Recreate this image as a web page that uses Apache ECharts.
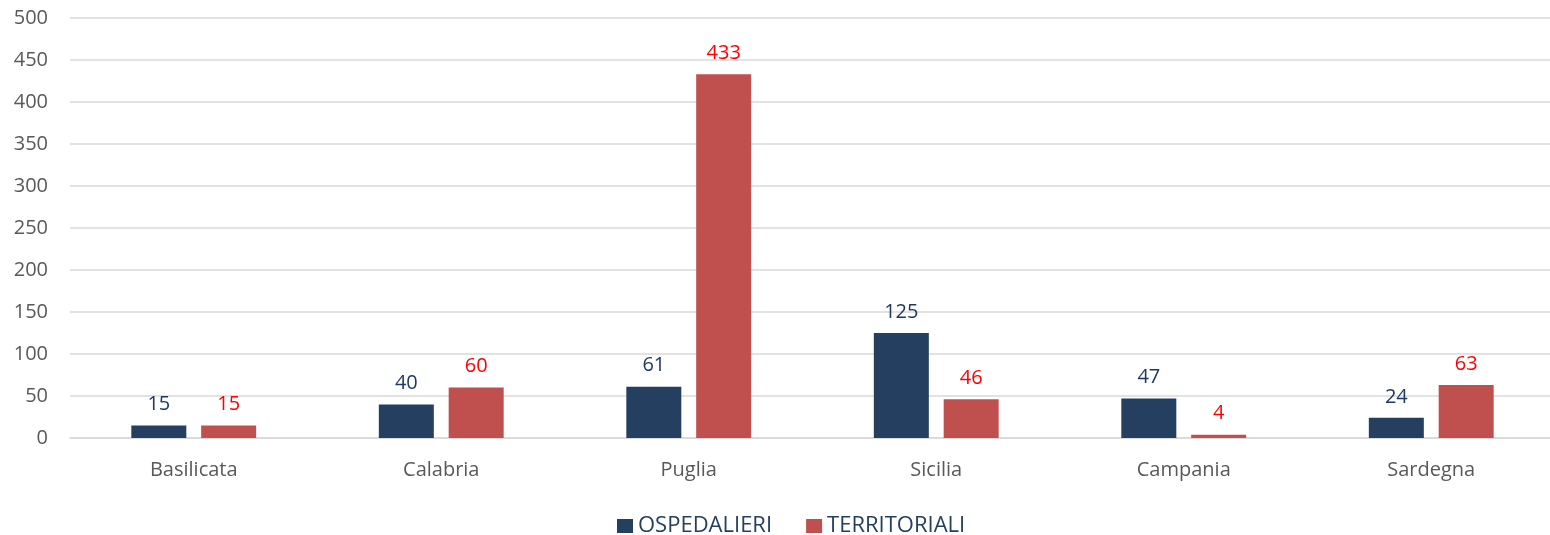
<!DOCTYPE html>
<html>
<head>
<meta charset="utf-8">
<script src="https://cdn.jsdelivr.net/npm/echarts@6/dist/echarts.min.js"></script>
<style>
  html, body { margin: 0; padding: 0; background: #fff; }
  #chart { width: 1550px; height: 535px; }
</style>
</head>
<body>
<div id="chart"></div>
<script>
  const regions = ["Basilicata", "Calabria", "Puglia", "Sicilia", "Campania", "Sardegna"];
  const ospedalieri = [15, 40, 61, 125, 47, 24];
  const territoriali = [15, 60, 433, 46, 4, 63];
  const yTicks = { min: 0, max: 500, interval: 50 };

  const font = "'Open Sans', 'Noto Sans', sans-serif";
  const chart = echarts.init(document.getElementById("chart"), null, { renderer: "canvas" });
  chart.setOption({
    animation: false,
    textStyle: { fontFamily: font },
    grid: { left: 70, width: 1485, top: 18, height: 420, outerBoundsMode: "none" },
    legend: {
      top: 510,
      left: 612,
      itemWidth: 16, itemHeight: 14, itemGap: 34,
      icon: "rect",
      textStyle: { fontSize: 22, color: "#243f60", fontFamily: font },
      data: ["OSPEDALIERI", "TERRITORIALI"]
    },
    xAxis: {
      type: "category",
      data: regions,
      axisLine: { lineStyle: { color: "#d9d9d9", width: 1.5 } },
      axisTick: { show: false },
      axisLabel: { color: "#595959", fontSize: 20, margin: 22, fontFamily: font }
    },
    yAxis: {
      type: "value",
      min: yTicks.min, max: yTicks.max, interval: yTicks.interval,
      axisLine: { show: false },
      axisTick: { show: false },
      splitLine: { lineStyle: { color: "#d9d9d9", width: 1.5 } },
      axisLabel: { color: "#595959", fontSize: 20, margin: 22, fontFamily: font }
    },
    series: [
      {
        name: "OSPEDALIERI", type: "bar", data: ospedalieri,
        barWidth: 55, barGap: "27%",
        itemStyle: { color: "#243f60" },
        label: { show: true, position: "top", distance: 11, color: "#1f3864", fontSize: 20, fontFamily: font }
      },
      {
        name: "TERRITORIALI", type: "bar", data: territoriali,
        barWidth: 55,
        itemStyle: { color: "#c0504d" },
        label: { show: true, position: "top", distance: 11, color: "#ff0000", fontSize: 20, fontFamily: font }
      }
    ]
  });
</script>
</body>
</html>
